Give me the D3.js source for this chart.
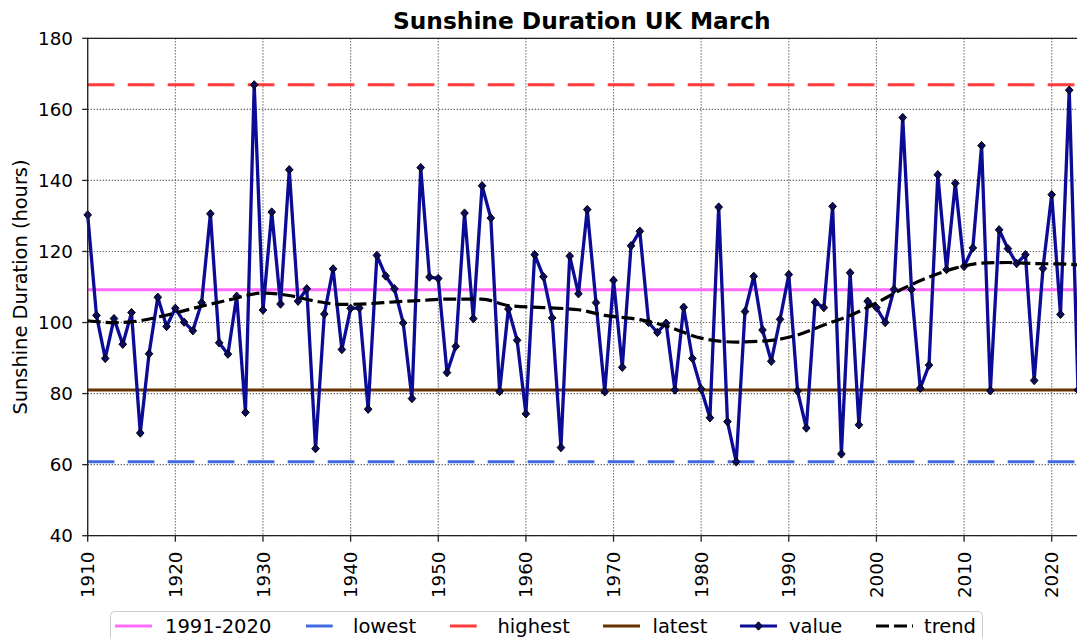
<!DOCTYPE html>
<html>
<head>
<meta charset="utf-8">
<script src="https://cdn.jsdelivr.net/npm/d3@7"></script>
<style>
  body { margin: 0; background: #fff; }
  text { font-family: "DejaVu Sans", sans-serif; fill: #000; }
</style>
</head>
<body>
<div id="chart"></div>
<script>
// March sunshine totals (hours), one per year from 1910
const firstYear = 1910;
const sunshine = [
  130.3, 102.0, 89.9, 101.1, 93.9, 102.8, 68.9, 91.2, 107.1, 98.9,
  104.0, 100.1, 97.7, 105.6, 130.6, 94.3, 91.1, 107.4, 74.7, 166.9,
  103.5, 131.1, 105.2, 143.0, 106.0, 109.5, 64.5, 102.4, 115.1, 92.4,
  104.0, 104.1, 75.6, 118.9, 113.1, 109.5, 99.9, 78.6, 143.6, 112.8,
  112.4, 85.9, 93.3, 130.8, 101.1, 138.5, 129.4, 80.6, 103.8, 95.0,
  74.3, 119.1, 112.9, 101.3, 64.8, 118.7, 108.1, 131.8, 105.6, 80.5,
  111.9, 87.4, 121.6, 125.7, 100.0, 97.2, 99.8, 81.0, 104.3, 89.9,
  81.3, 73.2, 132.5, 72.1, 60.8, 103.1, 113.0, 97.9, 89.1, 100.9,
  113.5, 80.7, 70.3, 105.7, 104.2, 132.7, 63.0, 114.0, 71.2, 106.0,
  104.2, 100.0, 109.3, 157.7, 109.3, 81.5, 88.0, 141.6, 114.9, 139.2,
  115.8, 121.0, 149.8, 80.8, 126.1, 120.8, 116.6, 119.1, 83.7, 115.2,
  136.0, 102.3, 165.4, 81.0
];
const years = sunshine.map((v, i) => firstYear + i);

const trendYears = [1910, 1913, 1915, 1918, 1920, 1923, 1926, 1930, 1933, 1936, 1939, 1942, 1945, 1948,
  1951, 1955, 1958, 1962, 1966, 1969, 1973, 1976, 1980, 1984, 1988, 1991, 1994, 1997, 2000,
  2003, 2006, 2009, 2012, 2015, 2018, 2021, 2023];
const trendValues = [100.5, 100.0, 100.2, 101.5, 102.7, 104.6, 106.3, 108.3, 107.6, 106.0, 105.1, 105.3, 105.8, 106.2,
  106.6, 106.6, 104.8, 104.2, 103.6, 102.0, 100.8, 99.0, 95.6, 94.5, 95.0, 96.5, 99.3, 102.0, 105.5,
  109.5, 112.8, 115.3, 116.7, 116.9, 116.6, 116.5, 116.2];

const avg9120 = 109.2;
const lowest = d3.min(sunshine);
const highest = d3.max(sunshine);
const latest = sunshine[sunshine.length - 1];

const yTicks = [40, 60, 80, 100, 120, 140, 160, 180];
const xTicks = [1910, 1920, 1930, 1940, 1950, 1960, 1970, 1980, 1990, 2000, 2010, 2020];

const W = 1077, H = 638;
const pLeft = 87.7, pTop = 38.3, pBottom = 535.7, pRight = 1078;

const svg = d3.select("#chart").append("svg")
  .attr("width", W).attr("height", H);

const x = d3.scaleLinear().domain([1910, 2023]).range([pLeft, pRight]);
const y = d3.scaleLinear().domain([40, 180]).range([pBottom, pTop]);

// grid
svg.append("g").selectAll("line").data(xTicks).join("line")
  .attr("x1", d => x(d)).attr("x2", d => x(d))
  .attr("y1", pTop).attr("y2", pBottom)
  .attr("stroke", "#555").attr("stroke-width", 1.1).attr("stroke-dasharray", "1.2,1.8");
svg.append("g").selectAll("line").data(yTicks).join("line")
  .attr("x1", pLeft).attr("x2", pRight)
  .attr("y1", d => y(d)).attr("y2", d => y(d))
  .attr("stroke", "#555").attr("stroke-width", 1.1).attr("stroke-dasharray", "1.2,1.8");

// reference lines
const refs = [
  {v: avg9120, c: "#ff6cff", dash: null},
  {v: lowest, c: "#4169e1", dash: "26.7,13.3"},
  {v: highest, c: "#ff3b3b", dash: "26.7,13.3"},
  {v: latest, c: "#663300", dash: null}
];
refs.forEach(r => {
  svg.append("line")
    .attr("x1", pLeft).attr("x2", pRight)
    .attr("y1", y(r.v)).attr("y2", y(r.v))
    .attr("stroke", r.c).attr("stroke-width", 3)
    .attr("stroke-dasharray", r.dash);
});

// data line + markers
const line = d3.line().x((d, i) => x(years[i])).y(d => y(d));
svg.append("path").datum(sunshine)
  .attr("d", line)
  .attr("fill", "none").attr("stroke", "#0b0b96").attr("stroke-width", 3.3)
  .attr("stroke-linejoin", "round");

const diamond = "M0,-4.2L3.8,0L0,4.2L-3.8,0Z";
svg.append("g").selectAll("path").data(sunshine).join("path")
  .attr("d", diamond)
  .attr("transform", (d, i) => `translate(${x(years[i])},${y(d)})`)
  .attr("fill", "#0b0b60").attr("stroke", "#000").attr("stroke-width", 1);

// trend
const trendLine = d3.line().curve(d3.curveMonotoneX)
  .x((d, i) => x(trendYears[i])).y(d => y(d));
svg.append("path").datum(trendValues)
  .attr("d", trendLine)
  .attr("fill", "none").attr("stroke", "#000").attr("stroke-width", 3.2)
  .attr("stroke-dasharray", "13,5");

// frame (right spine sits off canvas)
svg.append("path")
  .attr("d", `M${pRight},${pTop}H${pLeft}V${pBottom}H${pRight}`)
  .attr("fill", "none").attr("stroke", "#222").attr("stroke-width", 1.3);

// y axis ticks
const yAx = svg.append("g");
yAx.selectAll("line").data(yTicks).join("line")
  .attr("x1", pLeft - 5.5).attr("x2", pLeft)
  .attr("y1", d => y(d)).attr("y2", d => y(d))
  .attr("stroke", "#222").attr("stroke-width", 1.3);
yAx.selectAll("text").data(yTicks).join("text")
  .attr("x", 73).attr("y", d => y(d)).attr("dy", "0.36em")
  .attr("text-anchor", "end").attr("font-size", 18.3)
  .text(d => d);

// x axis ticks
const xAx = svg.append("g");
xAx.selectAll("line").data(xTicks).join("line")
  .attr("x1", d => x(d)).attr("x2", d => x(d))
  .attr("y1", pBottom).attr("y2", pBottom + 6)
  .attr("stroke", "#222").attr("stroke-width", 1.3);
xAx.selectAll("text").data(xTicks).join("text")
  .attr("transform", d => `translate(${x(d)},551.5) rotate(-90)`)
  .attr("dy", "0.36em")
  .attr("text-anchor", "end").attr("font-size", 18.3)
  .text(d => d);

// labels
svg.append("text")
  .attr("x", (pLeft + 1076) / 2).attr("y", 29)
  .attr("text-anchor", "middle").attr("font-size", 23.3).attr("font-weight", "bold")
  .text("Sunshine Duration UK March");

svg.append("text")
  .attr("transform", `translate(27,${(pTop + pBottom) / 2}) rotate(-90)`)
  .attr("text-anchor", "middle").attr("font-size", 19.4)
  .text("Sunshine Duration (hours)");

// legend
const legendItems = [
  {label: "1991-2020", c: "#ff6cff", dash: null, x0: 115, tx: 165},
  {label: "lowest", c: "#4169e1", dash: "26.7,13.3", x0: 306, tx: 353},
  {label: "highest", c: "#ff3b3b", dash: "26.7,13.3", x0: 450, tx: 497.5},
  {label: "latest", c: "#663300", dash: null, x0: 603, tx: 652.5},
  {label: "value", c: "#0b0b96", dash: null, x0: 740, tx: 789, marker: true},
  {label: "trend", c: "#000", dash: "13,5", x0: 876, tx: 924}
];
const lg = svg.append("g");
lg.append("rect")
  .attr("x", 110.5).attr("y", 611.5).attr("width", 872).attr("height", 45).attr("rx", 4)
  .attr("fill", "#fff").attr("fill-opacity", 0.8).attr("stroke", "#ccc").attr("stroke-width", 1);
legendItems.forEach(it => {
  lg.append("line")
    .attr("x1", it.x0).attr("x2", it.x0 + 37).attr("y1", 626).attr("y2", 626)
    .attr("stroke", it.c).attr("stroke-width", 3).attr("stroke-dasharray", it.dash);
  if (it.marker) {
    lg.append("path").attr("d", diamond)
      .attr("transform", `translate(${it.x0 + 18.5},626)`)
      .attr("fill", "#0b0b60").attr("stroke", "#000").attr("stroke-width", 1);
  }
  lg.append("text")
    .attr("x", it.tx).attr("y", 633)
    .attr("font-size", 19.5)
    .text(it.label);
});
</script>
</body>
</html>
